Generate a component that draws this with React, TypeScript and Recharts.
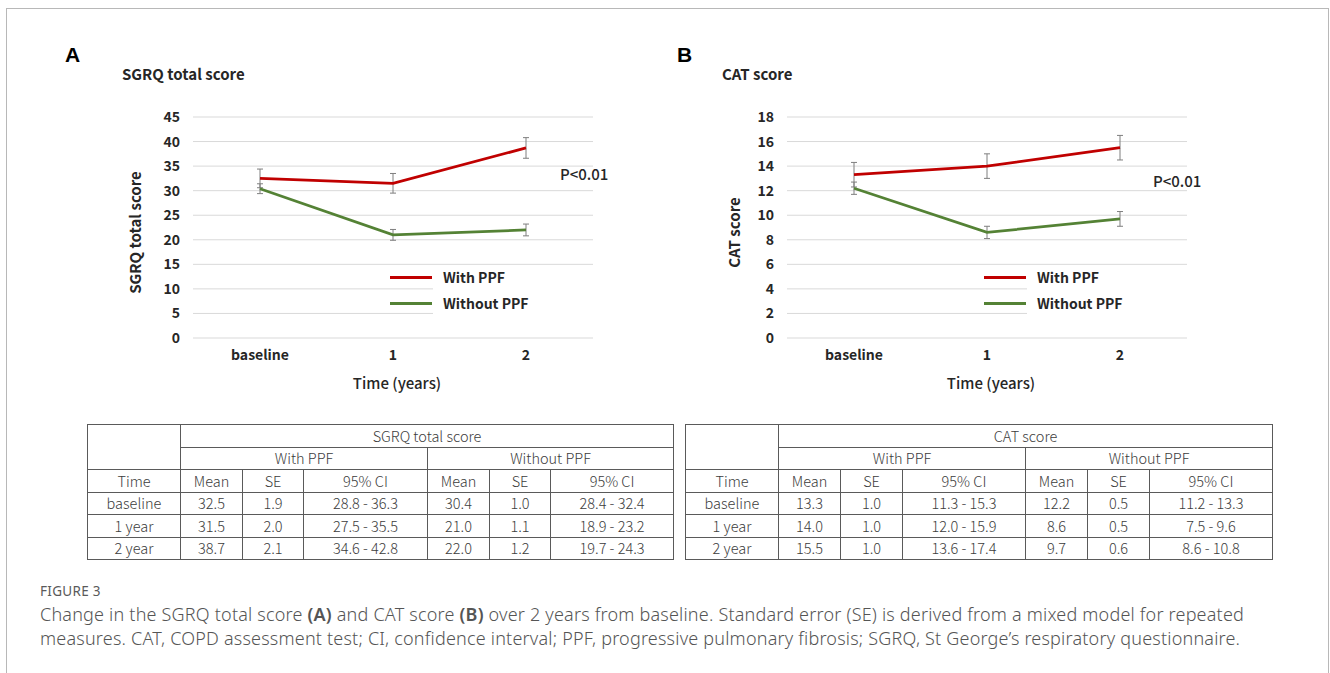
import React from 'react';
import { CartesianGrid, ErrorBar, Legend, Line, LineChart, XAxis, YAxis } from 'recharts';

// chart x categories and table row labels
const timePoints = ['baseline', '1', '2'];
const tableTimes = ['baseline', '1 year', '2 year'];

// SGRQ total score
const sgrqWithMean = [32.5, 31.5, 38.7];
const sgrqWithSE = [1.9, 2.0, 2.1];
const sgrqWithCI = ['28.8 - 36.3', '27.5 - 35.5', '34.6 - 42.8'];
const sgrqWithoutMean = [30.4, 21.0, 22.0];
const sgrqWithoutSE = [1.0, 1.1, 1.2];
const sgrqWithoutCI = ['28.4 - 32.4', '18.9 - 23.2', '19.7 - 24.3'];
const sgrqTicks = [0, 5, 10, 15, 20, 25, 30, 35, 40, 45];

// CAT score
const catWithMean = [13.3, 14.0, 15.5];
const catWithSE = [1.0, 1.0, 1.0];
const catWithCI = ['11.3 - 15.3', '12.0 - 15.9', '13.6 - 17.4'];
const catWithoutMean = [12.2, 8.6, 9.7];
const catWithoutSE = [0.5, 0.5, 0.6];
const catWithoutCI = ['11.2 - 13.3', '7.5 - 9.6', '8.6 - 10.8'];
const catTicks = [0, 2, 4, 6, 8, 10, 12, 14, 16, 18];

const seriesNames = ['With PPF', 'Without PPF'];
const subHeaders = ['Mean', 'SE', '95% CI'];

const CHART_FONT = '"Noto Sans CJK JP", "Noto Sans", sans-serif';
const TEXT = '#262626';

const renderLegend = (props: any) => {
  const items = props.payload || [];
  return (
    <div style={{ position: 'relative', width: 215, height: 62, fontFamily: CHART_FONT }}>
      <div style={{ position: 'absolute', left: 43, top: 4, width: 172, height: 58, background: '#fff' }} />
      {items.map((it: any, i: number) => (
        <div
          key={it.value}
          style={{ position: 'absolute', left: 0, top: 2 + i * 26, height: 18, display: 'flex', alignItems: 'center' }}
        >
          <span style={{ display: 'inline-block', width: 42, height: 3, background: it.color }} />
          <span style={{ position: 'relative', marginLeft: 11, fontSize: 14, fontWeight: 700, color: TEXT, whiteSpace: 'nowrap' }}>
            {it.value}
          </span>
        </div>
      ))}
    </div>
  );
};

interface PanelProps {
  left: number;
  withMean: number[];
  withSE: number[];
  withoutMean: number[];
  withoutSE: number[];
  ticks: number[];
  yTitle: string;
  yTitleDx: number;
}

const Panel = (p: PanelProps) => {
  const data = timePoints.map((t, i) => ({
    time: t,
    withPPF: p.withMean[i],
    withSE: p.withSE[i],
    withoutPPF: p.withoutMean[i],
    withoutSE: p.withoutSE[i],
  }));
  const tick = { fill: TEXT, fontSize: 14, fontWeight: 700, fontFamily: CHART_FONT };
  return (
    <div style={{ position: 'absolute', left: p.left, top: 0 }}>
      <LineChart width={620} height={400} data={data} margin={{ top: 117, right: 27, bottom: 8, left: 153 }}>
        <CartesianGrid vertical={false} stroke="#d9d9d9" />
        <XAxis
          dataKey="time"
          axisLine={false}
          tickLine={false}
          padding={{ left: 67, right: 67 }}
          height={54}
          tickMargin={6}
          tick={tick}
          label={{ value: 'Time (years)', position: 'center', dx: 4, dy: 19, fill: TEXT, fontSize: 15, fontWeight: 500, fontFamily: CHART_FONT }}
        />
        <YAxis
          domain={[0, p.ticks[p.ticks.length - 1]]}
          ticks={p.ticks}
          interval={0}
          width={40}
          axisLine={false}
          tickLine={false}
          tickMargin={7}
          tick={tick}
          label={{ value: p.yTitle, angle: -90, position: 'center', dx: p.yTitleDx, dy: 5, fill: TEXT, fontSize: 15, fontWeight: 700, fontFamily: CHART_FONT }}
        />
        <Legend
          layout="horizontal"
          verticalAlign="middle"
          align="center"
          content={renderLegend}
          wrapperStyle={{ position: 'absolute', left: 390, top: 266, width: 215, height: 62 }}
        />
        <Line dataKey="withPPF" name={seriesNames[0]} stroke="#c00000" strokeWidth={2.75} dot={false} isAnimationActive={false}>
          <ErrorBar dataKey="withSE" width={3} stroke="#7f7f7f" strokeWidth={1} direction="y" isAnimationActive={false} />
        </Line>
        <Line dataKey="withoutPPF" name={seriesNames[1]} stroke="#548235" strokeWidth={2.75} dot={false} isAnimationActive={false}>
          <ErrorBar dataKey="withoutSE" width={3} stroke="#7f7f7f" strokeWidth={1} direction="y" isAnimationActive={false} />
        </Line>
      </LineChart>
    </div>
  );
};

const Txt = (props: {
  x: number;
  y: number;
  size: number;
  weight?: number;
  font?: string;
  color?: string;
  spacing?: number;
  children: React.ReactNode;
}) => (
  <div
    style={{
      position: 'absolute',
      left: props.x,
      top: props.y,
      transform: 'translateY(-50%)',
      fontSize: props.size,
      lineHeight: 1.2,
      fontWeight: props.weight ?? 400,
      fontFamily: props.font ?? CHART_FONT,
      color: props.color ?? TEXT,
      letterSpacing: props.spacing ?? 0,
      whiteSpace: 'nowrap',
    }}
  >
    {props.children}
  </div>
);

interface TableProps {
  left: number;
  title: string;
  colWidths: number[];
  withMean: number[];
  withSE: number[];
  withCI: string[];
  withoutMean: number[];
  withoutSE: number[];
  withoutCI: string[];
}

const StatTable = (t: TableProps) => {
  const cell: React.CSSProperties = {
    border: '1px solid #5a5a5a',
    padding: 0,
    height: 21.5,
    textAlign: 'center',
    verticalAlign: 'middle',
    fontSize: 14.5,
    lineHeight: '16px',
    fontWeight: 300,
    color: '#3c3c3c',
    fontFamily: CHART_FONT,
    whiteSpace: 'nowrap',
  };
  return (
    <table
      style={{
        position: 'absolute',
        left: t.left,
        top: 424,
        borderCollapse: 'collapse',
        tableLayout: 'fixed',
        width: t.colWidths.reduce((a, b) => a + b, 0),
      }}
    >
      <colgroup>
        {t.colWidths.map((w, i) => (
          <col key={i} style={{ width: w }} />
        ))}
      </colgroup>
      <tbody>
        <tr>
          <td style={cell} rowSpan={2} />
          <td style={cell} colSpan={6}>{t.title}</td>
        </tr>
        <tr>
          <td style={cell} colSpan={3}>{seriesNames[0]}</td>
          <td style={cell} colSpan={3}>{seriesNames[1]}</td>
        </tr>
        <tr>
          <td style={cell}>Time</td>
          {[...subHeaders, ...subHeaders].map((h, i) => (
            <td key={i} style={cell}>{h}</td>
          ))}
        </tr>
        {tableTimes.map((tt, i) => (
          <tr key={tt}>
            <td style={cell}>{tt}</td>
            <td style={cell}>{t.withMean[i].toFixed(1)}</td>
            <td style={cell}>{t.withSE[i].toFixed(1)}</td>
            <td style={cell}>{t.withCI[i]}</td>
            <td style={cell}>{t.withoutMean[i].toFixed(1)}</td>
            <td style={cell}>{t.withoutSE[i].toFixed(1)}</td>
            <td style={cell}>{t.withoutCI[i]}</td>
          </tr>
        ))}
      </tbody>
    </table>
  );
};

const CAPTION_FONT = '"Noto Sans", "Open Sans", sans-serif';

export default function App() {
  return (
    <div style={{ position: 'absolute', left: 0, top: 0, width: 1330, height: 673, background: '#fff', overflow: 'hidden' }}>
      <div style={{ position: 'absolute', left: 6, top: 8, width: 1321, height: 700, border: '1px solid #b8b8b8', borderBottom: 'none' }} />

      <Txt x={65} y={55} size={21} weight={700} font='"Liberation Sans", Arial, sans-serif' color="#000">A</Txt>
      <Txt x={677} y={55} size={21} weight={700} font='"Liberation Sans", Arial, sans-serif' color="#000">B</Txt>
      <Txt x={122} y={74} size={15} weight={700}>SGRQ total score</Txt>
      <Txt x={722} y={74} size={15} weight={700}>CAT score</Txt>

      <Panel
        left={0}
        withMean={sgrqWithMean}
        withSE={sgrqWithSE}
        withoutMean={sgrqWithoutMean}
        withoutSE={sgrqWithoutSE}
        ticks={sgrqTicks}
        yTitle="SGRQ total score"
        yTitleDx={-37}
      />
      <Panel
        left={594}
        withMean={catWithMean}
        withSE={catWithSE}
        withoutMean={catWithoutMean}
        withoutSE={catWithoutSE}
        ticks={catTicks}
        yTitle="CAT score"
        yTitleDx={-32}
      />

      <Txt x={560} y={174} size={15} weight={500}>P&lt;0.01</Txt>
      <Txt x={1153} y={181} size={15} weight={500}>P&lt;0.01</Txt>

      <StatTable
        left={87}
        title="SGRQ total score"
        colWidths={[93, 62, 61, 124, 62, 61, 123]}
        withMean={sgrqWithMean}
        withSE={sgrqWithSE}
        withCI={sgrqWithCI}
        withoutMean={sgrqWithoutMean}
        withoutSE={sgrqWithoutSE}
        withoutCI={sgrqWithoutCI}
      />
      <StatTable
        left={685}
        title="CAT score"
        colWidths={[93, 62, 62, 123, 62, 62, 123]}
        withMean={catWithMean}
        withSE={catWithSE}
        withCI={catWithCI}
        withoutMean={catWithoutMean}
        withoutSE={catWithoutSE}
        withoutCI={catWithoutCI}
      />

      <Txt x={40} y={591} size={13.5} font={CAPTION_FONT} color="#5a5a5a" spacing={0.3}>FIGURE 3</Txt>
      <Txt x={40} y={615} size={18} weight={300} font={CAPTION_FONT} color="#555" spacing={0.2}>
        Change in the SGRQ total score <b style={{ fontWeight: 600 }}>(A)</b> and CAT score <b style={{ fontWeight: 600 }}>(B)</b> over 2 years from baseline. Standard error (SE) is derived from a mixed model for repeated
      </Txt>
      <Txt x={40} y={639} size={18} weight={300} font={CAPTION_FONT} color="#555" spacing={0.2}>
        measures. CAT, COPD assessment test; CI, confidence interval; PPF, progressive pulmonary fibrosis; SGRQ, St George’s respiratory questionnaire.
      </Txt>
    </div>
  );
}
